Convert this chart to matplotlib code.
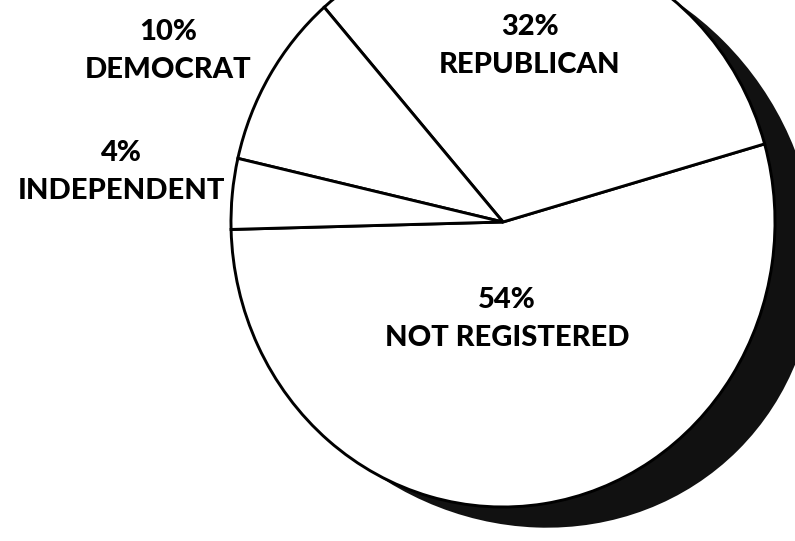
import matplotlib
matplotlib.use("Agg")
import matplotlib.pyplot as plt
from matplotlib.patches import Ellipse
from matplotlib.transforms import Affine2D

# party registration shares (%)
parties = ["NOT REGISTERED", "REPUBLICAN", "DEMOCRAT", "INDEPENDENT"]
shares = [54, 32, 10, 4]
pct_labels = ["54%", "32%", "10%", "4%"]

# label anchor points, in pixels from top-left
label_pos = [(507, 319), (530, 46), (168, 51), (121, 172)]

plt.rcParams['font.family'] = ['Lato', 'DejaVu Sans']

fig = plt.figure(figsize=(7.95, 5.41), dpi=100)
ax = fig.add_axes([0, 0, 1, 1])

# black shadow crescent behind the pie
shadow = Ellipse((526, 238), width=600, height=558, angle=45,
                 facecolor='#111111', edgecolor='none', zorder=1)
ax.add_patch(shadow)

wedges, _ = ax.pie(shares, startangle=181.5, counterclock=True,
                   colors=['white'] * len(shares),
                   wedgeprops=dict(edgecolor='black', linewidth=2.1))
# the scanned pie is slightly taller than wide
pie_tr = Affine2D().scale(272, -285).translate(503, 222) + ax.transData
for w in wedges:
    w.set_transform(pie_tr)
    w.set_zorder(2)

for (x, y), pct, name in zip(label_pos, pct_labels, parties):
    ax.text(x, y - 19, pct, ha='center', va='center', fontsize=21,
            fontweight='black', color='black', zorder=3)
    ax.text(x, y + 19, name, ha='center', va='center', fontsize=21,
            fontweight='black', color='black', zorder=3)

ax.set_xlim(0, 795)
ax.set_ylim(541, 0)
ax.set_aspect('auto')
ax.axis('off')

fig.savefig("out.png", dpi=100, facecolor='white')
